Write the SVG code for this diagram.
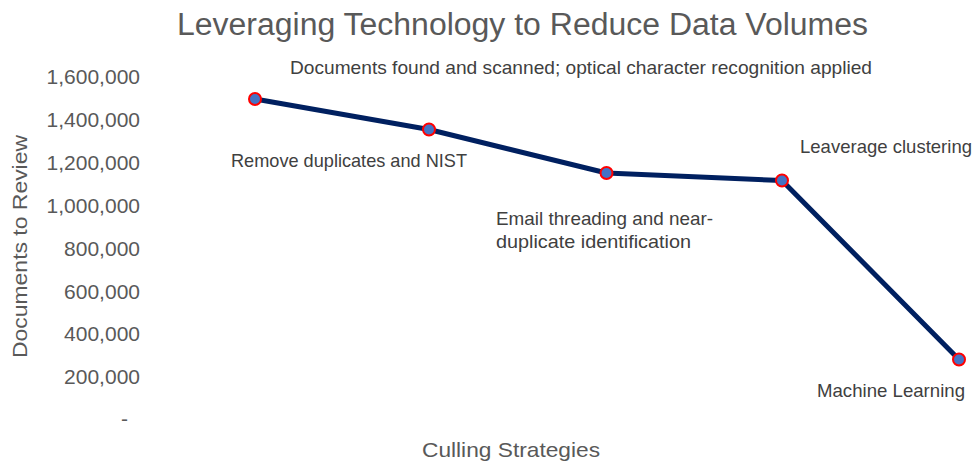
<svg xmlns="http://www.w3.org/2000/svg" width="977" height="464" viewBox="0 0 977 464">
<style>
.title{font-family:"Liberation Sans","Open Sans",sans-serif;font-size:31px;fill:#595959}
.tick{font-family:"Liberation Sans",sans-serif;font-size:21px;fill:#595959;text-anchor:end}
.axis{font-family:"Liberation Sans",sans-serif;font-size:21px;fill:#595959}
.lbl{font-family:"Liberation Sans",sans-serif;font-size:18.5px;fill:#404040}
.pt{fill:#4472C4;stroke:#FF0000;stroke-width:2}
.ln{fill:none;stroke:#002060;stroke-width:5;stroke-linejoin:round;stroke-linecap:round}
</style>
<rect width="977" height="464" fill="#ffffff"/>
<text class="title" x="177" y="35" textLength="691" lengthAdjust="spacingAndGlyphs">Leveraging Technology to Reduce Data Volumes</text>
<g id="y-axis">
<text class="tick" x="140" y="83.5">1,600,000</text>
<text class="tick" x="140" y="126.5">1,400,000</text>
<text class="tick" x="140" y="169.5">1,200,000</text>
<text class="tick" x="140" y="212.5">1,000,000</text>
<text class="tick" x="140" y="255.5">800,000</text>
<text class="tick" x="140" y="298.5">600,000</text>
<text class="tick" x="140" y="340.5">400,000</text>
<text class="tick" x="140" y="383.5">200,000</text>
<text class="tick" x="128" y="426">-</text>
<text class="axis" transform="translate(27,358) rotate(-90)" textLength="223" lengthAdjust="spacingAndGlyphs">Documents to Review</text>
</g>
<text class="axis" x="422" y="457" textLength="178" lengthAdjust="spacingAndGlyphs">Culling Strategies</text>
<g id="connectors">
<polyline class="ln" points="255,99 429,129.5 606.5,173 782,180.5 959,359.5"/>
</g>
<g id="node-1"><circle class="pt" cx="255" cy="99" r="6"/><text class="lbl" x="290" y="74" textLength="582" lengthAdjust="spacingAndGlyphs">Documents found and scanned; optical character recognition applied</text></g>
<g id="node-2"><circle class="pt" cx="429" cy="129.5" r="6"/><text class="lbl" x="231" y="166.5" textLength="236" lengthAdjust="spacingAndGlyphs">Remove duplicates and NIST</text></g>
<g id="node-3"><circle class="pt" cx="606.5" cy="173" r="6"/><text class="lbl" x="496" y="225" textLength="217" lengthAdjust="spacingAndGlyphs">Email threading and near-</text><text class="lbl" x="496" y="248" textLength="195" lengthAdjust="spacingAndGlyphs">duplicate identification</text></g>
<g id="node-4"><circle class="pt" cx="782" cy="180.5" r="6"/><text class="lbl" x="800" y="153" textLength="172" lengthAdjust="spacingAndGlyphs">Leaverage clustering</text></g>
<g id="node-5"><circle class="pt" cx="959" cy="359.5" r="6"/><text class="lbl" x="817" y="397" textLength="148" lengthAdjust="spacingAndGlyphs">Machine Learning</text></g>
</svg>
